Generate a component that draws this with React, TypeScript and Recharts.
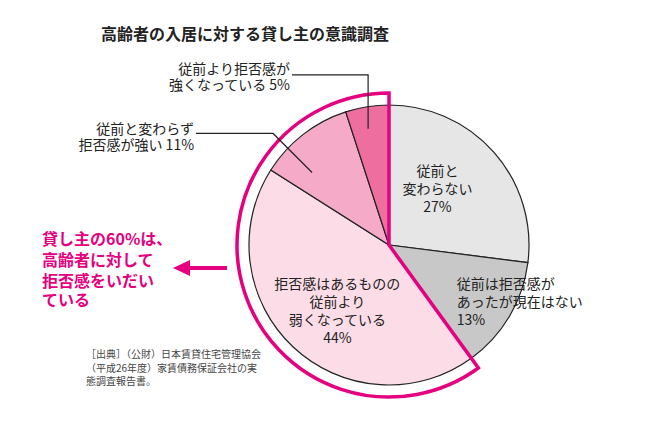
import { PieChart, Pie, Cell } from 'recharts';

// slices clockwise from 12 o'clock
const categories = [
  '従前と変わらない',
  '従前は拒否感があったが現在はない',
  '拒否感はあるものの従前より弱くなっている',
  '従前と変わらず拒否感が強い',
  '従前より拒否感が強くなっている',
];
const shares = [27, 13, 44, 11, 5];
const sliceLabels = [
  ['従前と', '変わらない'],
  ['従前は拒否感が', 'あったが現在はない'],
  ['拒否感はあるものの', '従前より', '弱くなっている'],
  ['従前と変わらず', '拒否感が強い'],
  ['従前より拒否感が', '強くなっている'],
];

// outline around the "reluctant" group
const groups = ['その他', '拒否感あり'];
const groupShares = [shares[0] + shares[1], shares[2] + shares[3] + shares[4]];

const title = '高齢者の入居に対する貸し主の意識調査';
const callout = ['貸し主の60%は、', '高齢者に対して', '拒否感をいだい', 'ている'];
const source = ['［出典］（公財）日本賃貸住宅管理協会', '（平成26年度）家賃債務保証会社の実', '態調査報告書。'];

const COLORS = ['#e6e6e6', '#c8c8c8', '#fcdde7', '#f5abc7', '#ee6ea0'];
const MAGENTA = '#e4007f';
const FONT = '"Noto Sans CJK JP", "Noto Sans", sans-serif';
const INK = '#222';

const data = categories.map((name, i) => ({ name, value: shares[i] }));
const groupData = groups.map((name, i) => ({ name, value: groupShares[i] }));

const RAD = Math.PI / 180;
const LH = 18;

// label placement per slice: radius fraction, nudges, alignment
const layout = [
  { r: 0.5, dx: -4, dy: -11, anchor: 'middle' },
  { r: 0.57, dx: -1, dy: 15, anchor: 'start' },
  { r: 0.57, dx: 3, dy: 7, anchor: 'middle' },
  { r: 0.71, dx: -16, dy: 6, anchor: 'end' },
  { r: 0.84, dx: -2.5, dy: 0, anchor: 'end' },
];

// one <text> per block, a tspan per line
function Block({ x, ys, lines, anchor = 'start', size = 14, weight = 400, fill = INK }: any) {
  return (
    <text x={x} textAnchor={anchor} dominantBaseline="central" fontFamily={FONT} fontSize={size} fontWeight={weight} fill={fill}>
      {lines.map((s: string, k: number) => (
        <tspan key={k} x={x} y={ys[k]} dominantBaseline="central">
          {s}
        </tspan>
      ))}
    </text>
  );
}

function renderLabel(p: any) {
  const { cx, cy, midAngle, outerRadius, index, value } = p;
  const L = layout[index];
  const x = cx + outerRadius * L.r * Math.cos(-midAngle * RAD) + L.dx;
  const y = cy + outerRadius * L.r * Math.sin(-midAngle * RAD) + L.dy;
  const lines = sliceLabels[index];

  if (index < 3) {
    const all = [...lines, `${value}%`];
    const top = y - ((all.length - 1) * LH) / 2;
    return (
      <g key={`lbl-${index}`}>
        <Block x={x} ys={all.map((_, k) => top + k * LH)} lines={all} anchor={L.anchor} />
      </g>
    );
  }

  let path: string;
  let tx: number;
  let ty: number;
  if (index === 3) {
    const ex = x - 39;
    const ey = y - 39;
    path = `M${x},${y}L${ex},${ey}L${ex - 77},${ey}`;
    tx = ex - 79;
    ty = ey;
  } else {
    const ey = y - 54;
    path = `M${x},${y}L${x},${ey}L292,${ey}`;
    tx = 290;
    ty = ey;
  }
  const off = index === 3 ? [-5, 11] : [-7, 9];
  return (
    <g key={`lbl-${index}`}>
      <path d={path} stroke={INK} strokeWidth={1.2} fill="none" />
      <Block x={tx} ys={[ty + off[0], ty + off[1]]} lines={[lines[0], `${lines[1]} ${value}%`]} anchor="end" />
    </g>
  );
}

export default function App() {
  const W = 660;
  const H = 429;
  return (
    <div style={{ position: 'absolute', left: 0, top: 0, width: W, height: H, background: '#fff' }}>
      <PieChart width={W} height={H} margin={{ top: 0, right: 0, bottom: 0, left: 0 }}>
        <Pie
          data={data}
          dataKey="value"
          nameKey="name"
          cx={389}
          cy={245}
          outerRadius={140}
          startAngle={90}
          endAngle={-270}
          stroke={INK}
          strokeWidth={1.2}
          label={renderLabel}
          labelLine={false}
          isAnimationActive={false}
        >
          {data.map((d, i) => (
            <Cell key={d.name} fill={COLORS[i]} />
          ))}
        </Pie>
        <Pie
          data={groupData}
          dataKey="value"
          nameKey="name"
          cx={389}
          cy={245}
          outerRadius={152}
          startAngle={90}
          endAngle={-270}
          isAnimationActive={false}
        >
          <Cell fill="none" stroke="none" />
          <Cell fill="none" stroke={MAGENTA} strokeWidth={3.5} strokeLinejoin="miter" />
        </Pie>
      </PieChart>

      <svg width={W} height={H} style={{ position: 'absolute', left: 0, top: 0, pointerEvents: 'none' }}>
        <text x={101} y={33} dominantBaseline="central" fontFamily={FONT} fontSize={16} fontWeight={700} fill={INK}>
          {title}
        </text>
        <Block x={42} ys={[238, 259, 280, 299]} lines={callout} size={16} weight={700} fill={MAGENTA} />
        <line x1={227} y1={268} x2={186} y2={268} stroke={MAGENTA} strokeWidth={4} />
        <polygon points="173,268 190,260 190,276" fill={MAGENTA} />
        <Block x={86} ys={source.map((_, k) => 353 + k * 13.5)} lines={source} size={10} fill="#444" />
      </svg>
    </div>
  );
}
